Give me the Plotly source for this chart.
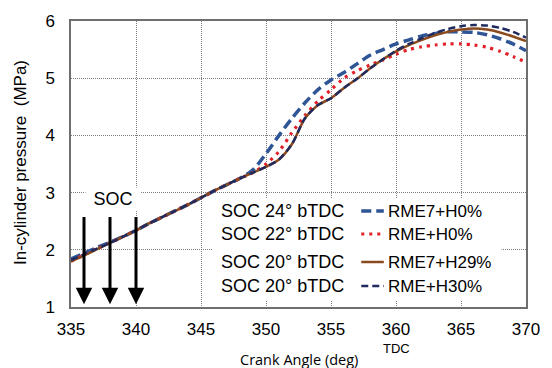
import plotly.graph_objects as go

# ---------------- data ----------------
crank_angle = list(range(335, 371))

rme7_h0 = [1.84, 1.94, 2.04, 2.13, 2.23, 2.34, 2.46, 2.57, 2.68, 2.79,
           2.91, 3.03, 3.14, 3.25, 3.40, 3.68, 4.00, 4.30, 4.57, 4.80,
           4.97, 5.10, 5.25, 5.40, 5.50, 5.60, 5.67, 5.74, 5.78, 5.81,
           5.81, 5.80, 5.76, 5.69, 5.60, 5.48]

rme_h0 = [1.80, 1.91, 2.02, 2.12, 2.23, 2.34, 2.46, 2.57, 2.68, 2.79,
          2.91, 3.03, 3.14, 3.25, 3.35, 3.50, 3.72, 4.05, 4.35, 4.60,
          4.80, 5.00, 5.13, 5.23, 5.32, 5.42, 5.50, 5.55, 5.58, 5.60,
          5.60, 5.58, 5.54, 5.47, 5.38, 5.28]

rme7_h29 = [1.80, 1.90, 2.01, 2.12, 2.23, 2.34, 2.46, 2.57, 2.68, 2.79,
            2.91, 3.03, 3.14, 3.25, 3.35, 3.45, 3.58, 3.85, 4.30, 4.53,
            4.65, 4.83, 4.99, 5.17, 5.33, 5.47, 5.58, 5.67, 5.75, 5.81,
            5.85, 5.87, 5.85, 5.80, 5.73, 5.65]

rme_h30 = [1.82, 1.92, 2.02, 2.12, 2.23, 2.34, 2.46, 2.57, 2.68, 2.79,
           2.91, 3.03, 3.14, 3.25, 3.35, 3.45, 3.58, 3.85, 4.30, 4.53,
           4.65, 4.83, 4.99, 5.17, 5.33, 5.48, 5.60, 5.70, 5.79, 5.86,
           5.91, 5.93, 5.92, 5.88, 5.81, 5.71]

series_names = ["RME7+H0%", "RME+H0%", "RME7+H29%", "RME+H30%"]
soc_labels = ["SOC 24° bTDC", "SOC 22° bTDC", "SOC 20° bTDC", "SOC 20° bTDC"]
soc_btdc = [24, 22, 20]          # start of combustion, degrees before TDC
tdc = 360

x_ticks = [335, 340, 345, 350, 355, 360, 365, 370]
y_ticks = [1, 2, 3, 4, 5, 6]

# ---------------- styles ----------------
FONT = "Arial, Liberation Sans, sans-serif"
styles = [
    dict(color="#2F5597", width=3.5, dash="10px,5px"),
    dict(color="#E3202A", width=3.2, dash="3px,5px"),
    dict(color="#8B4A1E", width=2.5, dash="solid"),
    dict(color="#1F2B5E", width=2.5, dash="7px,4px"),
]
series = [rme7_h0, rme_h0, rme7_h29, rme_h30]

L, R, T, B = 71, 17, 21, 61
W, H = 552, 368
pw, ph = W - L - R, H - T - B

def px2paper_x(px):
    return (px - L) / pw

def px2paper_y(py):
    return (H - B - py) / ph

fig = go.Figure()

for name, ys, st in zip(series_names, series, styles):
    fig.add_trace(go.Scatter(x=crank_angle, y=ys, mode="lines", name=name,
                             line=dict(color=st["color"], width=st["width"],
                                       dash=st["dash"], shape="spline", smoothing=0.8),
                             showlegend=False, hoverinfo="skip"))

# legend white box
fig.add_shape(type="rect", xref="paper", yref="paper",
              x0=px2paper_x(215), x1=px2paper_x(510),
              y0=px2paper_y(301), y1=px2paper_y(198),
              fillcolor="white", line=dict(width=0), layer="above")

row_y = [211, 234, 262, 286]
for i, (lab, name, st) in enumerate(zip(soc_labels, series_names, styles)):
    yy = px2paper_y(row_y[i])
    fig.add_annotation(x=px2paper_x(351), y=yy, xref="paper", yref="paper",
                       text=lab, showarrow=False, xanchor="right", yanchor="middle",
                       font=dict(family=FONT, size=18, color="black"))
    fig.add_shape(type="line", xref="paper", yref="paper",
                  x0=px2paper_x(367), x1=px2paper_x(390), y0=yy, y1=yy,
                  line=dict(color=st["color"], width=st["width"], dash=st["dash"]))
    fig.add_annotation(x=px2paper_x(392), y=yy, xref="paper", yref="paper",
                       text=name, showarrow=False, xanchor="left", yanchor="middle",
                       font=dict(family=FONT, size=17, color="black"))

# SOC arrows
for s in soc_btdc:
    a = tdc - s
    fig.add_annotation(x=a, y=1.05, ax=a, ay=2.6, xref="x", yref="y",
                       axref="x", ayref="y", text="", showarrow=True,
                       arrowhead=2, arrowsize=1.1, arrowwidth=3, arrowcolor="black")
fig.add_annotation(x=338.2, y=2.88, xref="x", yref="y", text="SOC", showarrow=False,
                   bgcolor="white", width=52, font=dict(family=FONT, size=18, color="black"))

# TDC label
fig.add_annotation(x=tdc, y=px2paper_y(348), xref="x", yref="paper", text="TDC",
                   showarrow=False, yanchor="middle",
                   font=dict(family=FONT, size=13, color="black"))
# axis titles
fig.add_annotation(x=px2paper_x(303), y=px2paper_y(359), xref="paper", yref="paper",
                   text="Crank Angle (deg)", showarrow=False, yanchor="middle",
                   font=dict(family="Open Sans, sans-serif", size=14.5, color="black"))
fig.add_annotation(x=px2paper_x(19), y=px2paper_y(163), xref="paper", yref="paper",
                   text="In-cylinder pressure  (MPa)", showarrow=False, textangle=-90,
                   xanchor="center", yanchor="middle",
                   font=dict(family=FONT, size=17, color="black"))

axis_common = dict(showline=True, mirror=True, linecolor="#6e6e6e", linewidth=1.5,
                   showgrid=True, gridcolor="#7c7c7c", gridwidth=1, griddash="1px,1px",
                   zeroline=False, ticks="outside", tickcolor="rgba(0,0,0,0)",
                   tickfont=dict(family=FONT, size=17, color="black"))

fig.update_xaxes(range=[335, 370], tickvals=x_ticks, ticktext=[str(v) for v in x_ticks],
                 ticklen=6, **axis_common)
fig.update_yaxes(range=[1, 6], tickvals=y_ticks, ticktext=[str(v) for v in y_ticks],
                 ticklen=11, **axis_common)

fig.update_layout(width=W, height=H, margin=dict(l=L, r=R, t=T, b=B),
                  paper_bgcolor="white", plot_bgcolor="white", showlegend=False)

fig.write_html("out.html", config={"displayModeBar": False})
with open("out.html", "r", encoding="utf-8") as f:
    html = f.read()
html = html.replace("<body>", '<body style="margin:0;padding:0;overflow:hidden">', 1)
with open("out.html", "w", encoding="utf-8") as f:
    f.write(html)
